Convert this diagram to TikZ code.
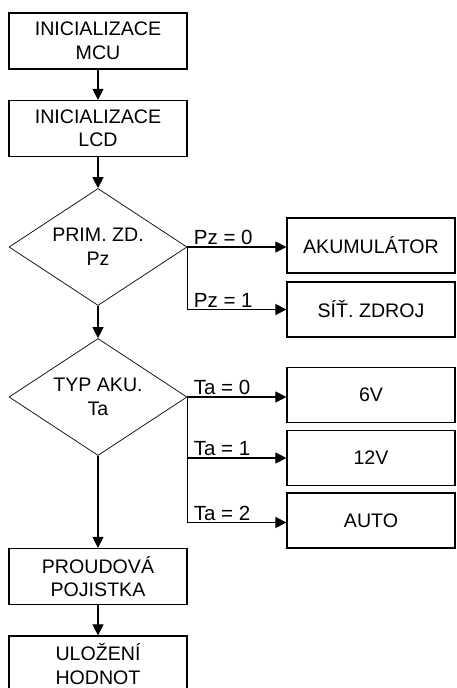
\documentclass[tikz,border=0pt]{standalone}
\usepackage{fontspec}
\setmainfont{Liberation Sans}
\usetikzlibrary{shapes.geometric, arrows.meta, positioning}
\tikzstyle{arrow}     = [line width=1.1pt,-{Triangle[length=11pt,width=11pt]}]
\tikzset{every node/.style={align=center}}

\begin{document}
\begin{tikzpicture}[x=1pt, y=-1pt,
    box/.style={rectangle, draw, line width=1.2pt, minimum width=178pt,
                minimum height=56pt, inner sep=0pt, font=\fontsize{19.6}{23.5}\selectfont},
    sidebox/.style={box, minimum width=168pt, minimum height=55pt},
    decision/.style={diamond, draw, line width=0.7pt, aspect=1.52, inner sep=0pt,
                     minimum width=178pt, minimum height=117pt,
                     font=\fontsize{19.6}{23.5}\selectfont},
    lbl/.style={anchor=south west, inner xsep=6pt, inner ysep=1.5pt,
                font=\fontsize{20.5}{24}\selectfont}
]
  \useasboundingbox (0,0) rectangle (456,688);

  % --- main column ---
  \node[box] (MCU) at (98, 41)    {INICIALIZACE\\MCU};
  \node[box] (LCD) at (98, 128.5) {INICIALIZACE\\LCD};
  \node[decision] (PZ) at (98, 247) {PRIM. ZD.\\Pz};
  \node[decision] (TA) at (98, 397) {TYP AKU.\\Ta};
  \node[box] (POJ) at (98, 576.5) {PROUDOVÁ\\POJISTKA};
  \node[box] (ULO) at (98, 664)   {ULOŽENÍ\\HODNOT};

  \draw[arrow] (MCU) -- (LCD);
  \draw[arrow] (LCD) -- (PZ);
  \draw[arrow] (PZ)  -- (TA);
  \draw[arrow] (TA)  -- (POJ);
  \draw[arrow] (POJ) -- (ULO);

  % --- primary source ---
  \node[sidebox] (AKU) at (371, 245.5) {AKUMULÁTOR};
  \node[sidebox] (SIT) at (371, 309.5) {SÍŤ. ZDROJ};
  \draw[arrow] (PZ.east) -- node[lbl, pos=0]{Pz = 0} (AKU.west |- PZ.east);
  \draw[arrow] (PZ.east) |- node[lbl, pos=0.5]{Pz = 1} (SIT.west);

  % --- battery type ---
  \node[sidebox] (V6)  at (371, 395)   {6V};
  \node[sidebox] (V12) at (371, 458)   {12V};
  \node[sidebox] (AUT) at (371, 520.5) {AUTO};
  \draw[arrow] (TA.east) -- node[lbl, pos=0]{Ta = 0} (V6.west |- TA.east);
  \draw[arrow] (TA.east) |- node[lbl, pos=0.5]{Ta = 1} (V12.west);
  \draw[arrow] (TA.east) |- node[lbl, pos=0.5]{Ta = 2} ([yshift=-2pt]AUT.west);
\end{tikzpicture}
\end{document}
